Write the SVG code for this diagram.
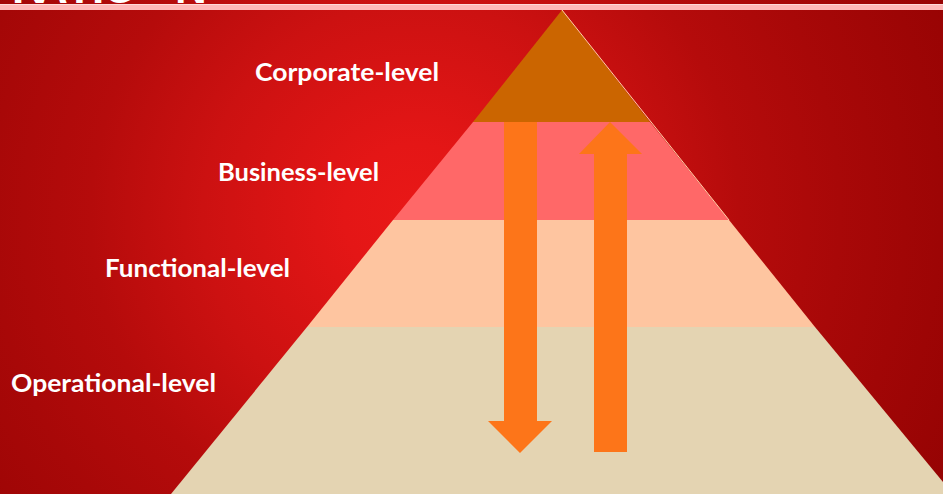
<svg xmlns="http://www.w3.org/2000/svg" width="943" height="494" viewBox="0 0 943 494">
<defs>
<radialGradient id="bg" gradientUnits="userSpaceOnUse" cx="0" cy="0" r="1" gradientTransform="translate(415 215) scale(590 590)">
<stop offset="0" stop-color="#e91817"/><stop offset="0.12" stop-color="#e41616"/><stop offset="0.36" stop-color="#cc1111"/><stop offset="0.55" stop-color="#b50b0b"/><stop offset="0.72" stop-color="#a80808"/><stop offset="1" stop-color="#960303"/>
</radialGradient>
</defs>
<style>
.lbl{font-family:"Lato","Liberation Sans",sans-serif;font-size:25px;font-weight:700;fill:#fff}
.arrow{fill:#fd7519}
</style>
<rect id="background" width="943" height="494" fill="url(#bg)"/>
<g id="title-rule"><rect x="0" y="4" width="943" height="6" fill="#ffb8b8"/><rect x="0" y="4" width="943" height="1" fill="#ffd8d8"/></g>
<g id="title"><text x="12 36 66 92 103 175" y="3" font-family="Liberation Sans,sans-serif" font-size="44" font-weight="700" fill="#fff">RATION</text></g>
<g id="level-operational"><polygon points="171,494 307,327 815,327 943,482 943,494" fill="#e4d4b2"/><text class="lbl" x="11" y="392" textLength="205" lengthAdjust="spacingAndGlyphs">Operational-level</text></g>
<g id="level-functional"><polygon points="307,327 393,220 729,220 815,327" fill="#fec5a0"/><text class="lbl" x="105" y="277" textLength="185" lengthAdjust="spacingAndGlyphs">Functional-level</text></g>
<g id="level-business"><polygon points="393,220 473,122 650,122 729,220" fill="#ff6868"/><text class="lbl" x="218" y="181" textLength="161" lengthAdjust="spacingAndGlyphs">Business-level</text></g>
<g id="level-corporate"><polygon points="562,10 473,122 650,122" fill="#cb6500"/><text class="lbl" x="255" y="81" textLength="184" lengthAdjust="spacingAndGlyphs">Corporate-level</text></g>
<line x1="562" y1="10" x2="729" y2="220" stroke="#ffd0a8" stroke-width="1"/>
<g id="connectors">
<polygon class="arrow" points="504,122 537,122 537,421 552,421 520,453 488,421 504,421"/>
<polygon class="arrow" points="594,452 627,452 627,154 642,154 610,122 579,154 594,154"/>
</g>
</svg>
